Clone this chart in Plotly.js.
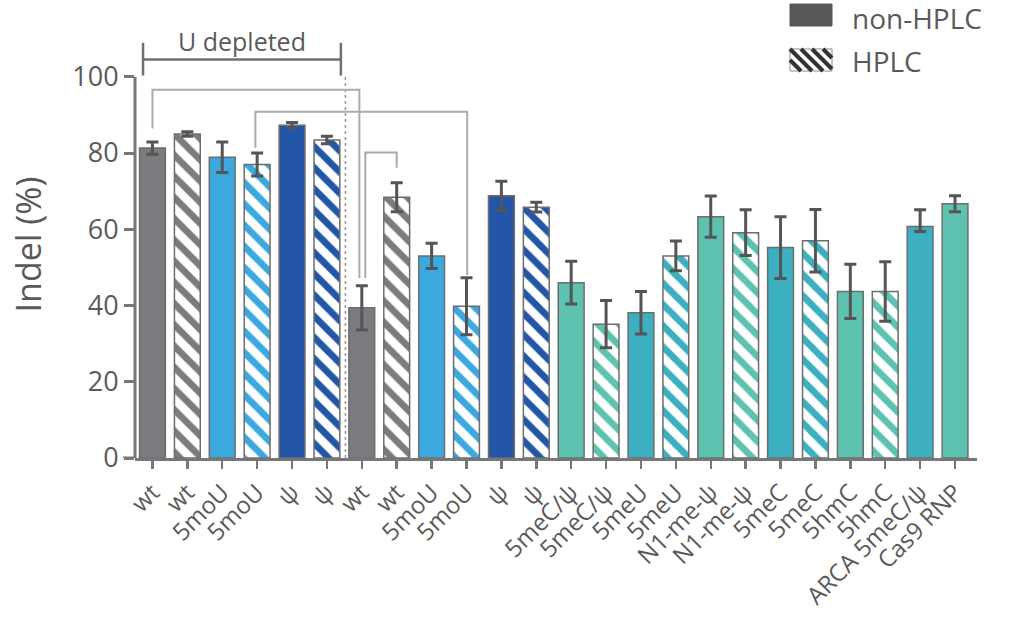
<!DOCTYPE html>
<html>
<head>
<meta charset="utf-8">
<script src="https://cdn.plot.ly/plotly-3.0.1.min.js"></script>
<style>html,body{margin:0;padding:0;background:#fff;}#chart{width:1036px;height:631px;}</style>
</head>
<body>
<div id="chart"></div>
<script>
// ---- data ----
const categories = ['wt','wt','5moU','5moU','ψ','ψ','wt','wt','5moU','5moU','ψ','ψ',
  '5meC/ψ','5meC/ψ','5meU','5meU','N1-me-ψ','N1-me-ψ','5meC','5meC','5hmC','5hmC','ARCA 5meC/ψ','Cas9 RNP'];
const indel = [81.3, 85.0, 78.9, 77.0, 87.3, 83.4, 39.4, 68.4, 53.0, 39.8, 68.8, 65.8,
  46.0, 35.1, 38.1, 53.0, 63.3, 59.1, 55.2, 57.0, 43.7, 43.7, 60.7, 66.7];
const errPlus  = [1.6, 0.6, 4.0, 3.0, 0.7, 1.0, 5.8, 3.8, 3.3, 7.5, 3.8, 1.3,
  5.6, 6.2, 5.6, 3.9, 5.4, 6.0, 8.1, 8.2, 7.1, 7.8, 4.4, 2.1];
const errMinus = [1.6, 0.6, 4.0, 3.0, 0.7, 1.0, 5.8, 3.8, 3.3, 7.5, 3.8, 1.3,
  5.6, 6.2, 5.6, 3.9, 5.4, 6.0, 8.1, 8.2, 7.1, 7.8, 1.3, 2.1];
const hplc = [0,1,0,1,0,1,0,1,0,1,0,1, 0,1,0,1,0,1,0,1,0,1,0,0];
const colorGroup = ['gray','gray','lightblue','lightblue','darkblue','darkblue',
  'gray','gray','lightblue','lightblue','darkblue','darkblue',
  'green','green','teal','teal','green','green','teal','teal','green','green','teal','green'];
const yTicks = [0, 20, 40, 60, 80, 100];
const legendLabels = ['non-HPLC', 'HPLC'];
const bracketLabel = 'U depleted';
// comparison brackets: [x left, y left end, y top, x right, y right end]
const brackets = [
  [0.0, 86.4, 96.6, 5.93, 47.2],
  [2.95, 81.4, 90.8, 9.02, 48.0],
  [6.1, 47.2, 80.1, 7.0, 76.1]
];

// ---- styling ----
const palette = {gray:'#7b7c80', lightblue:'#3ba9e0', darkblue:'#2456a8', green:'#5dc3b0', teal:'#3cb0c0'};
const font = 'Open Sans, Lato, sans-serif';
const txt = '#5a5a5a';
const axisCol = '#777777';

const W = 1036, H = 631;
const M = {l:135, r:59, t:31, b:173};
const pw = W - M.l - M.r, ph = H - M.t - M.b;
const px2x = p => (p - M.l) / pw;
const py2y = p => (H - M.b - p) / ph;

const xs = categories.map((_, i) => i);
const colors = colorGroup.map(g => palette[g]);

const trace = {
  type: 'bar',
  x: xs,
  y: indel,
  width: 0.74,
  showlegend: false,
  hoverinfo: 'y',
  marker: {
    color: colors,
    line: {color: '#6d6d6d', width: 1.5},
    pattern: {
      shape: hplc.map(h => h ? '\\' : ''),
      fgcolor: colors,
      bgcolor: 'white',
      size: 15,
      solidity: 0.45,
      fillmode: 'replace'
    }
  },
  error_y: {type: 'data', symmetric: false, array: errPlus, arrayminus: errMinus,
    color: '#555555', thickness: 3, width: 6}
};

const shapes = [];
// y axis line 0..100
shapes.push({type:'line', xref:'paper', yref:'y', x0:0, x1:0, y0:0, y1:100,
  line:{color:axisCol, width:3}});
// x axis extension to the left
shapes.push({type:'line', xref:'paper', yref:'y', x0:px2x(123), x1:0, y0:0, y1:0,
  line:{color:axisCol, width:3}});
// dotted separator
shapes.push({type:'line', xref:'x', yref:'y', x0:5.53, x1:5.53, y0:0, y1:100.3,
  line:{color:'#9a9a9a', width:1.5, dash:'dot'}});
// U depleted bracket
shapes.push({type:'line', xref:'x', yref:'y', x0:-0.27, x1:5.4, y0:104.5, y1:104.5, line:{color:'#707070', width:2.5}});
shapes.push({type:'line', xref:'x', yref:'y', x0:-0.27, x1:-0.27, y0:100.3, y1:108.9, line:{color:'#707070', width:2.5}});
shapes.push({type:'line', xref:'x', yref:'y', x0:5.4, x1:5.4, y0:100.3, y1:108.9, line:{color:'#707070', width:2.5}});
// comparison brackets
brackets.forEach(b => {
  shapes.push({type:'path', xref:'x', yref:'y',
    path:`M${b[0]},${b[1]} L${b[0]},${b[2]} L${b[3]},${b[2]} L${b[3]},${b[4]}`,
    line:{color:'#ababab', width:2}});
});
// legend swatches (drawn in pixel space)
const sw = {x0:790, x1:832};
const rows = [{y0:4, y1:26}, {y0:49, y1:71}];
shapes.push({type:'rect', xref:'paper', yref:'paper', x0:px2x(sw.x0), x1:px2x(sw.x1),
  y0:py2y(rows[0].y1), y1:py2y(rows[0].y0), fillcolor:'#58585a', line:{color:'#58585a', width:1}});
shapes.push({type:'rect', xref:'paper', yref:'paper', x0:px2x(sw.x0), x1:px2x(sw.x1),
  y0:py2y(rows[1].y1), y1:py2y(rows[1].y0), fillcolor:'white', line:{color:'#8a8a8a', width:1}});
(function(){
  const X0 = sw.x0, X1 = sw.x1, Y0 = rows[1].y0, Y1 = rows[1].y1, h = Y1 - Y0;
  for (let k = -h; k < X1 - X0; k += 11) {
    const t0 = Math.max(0, -k / h), t1 = Math.min(1, (X1 - X0 - k) / h);
    if (t1 <= t0) continue;
    shapes.push({type:'line', xref:'paper', yref:'paper',
      x0:px2x(X0 + k + t0*h), y0:py2y(Y0 + t0*h),
      x1:px2x(X0 + k + t1*h), y1:py2y(Y0 + t1*h),
      line:{color:'#333333', width:4}});
  }
})();

const annotations = [
  {xref:'x', yref:'y', x:2.57, y:109.3, text:bracketLabel, showarrow:false,
   font:{family:font, size:25, color:txt}, xanchor:'center', yanchor:'middle'},
  {xref:'paper', yref:'paper', x:px2x(850), y:py2y(18), text:legendLabels[0], showarrow:false,
   font:{family:font, size:28, color:txt}, xanchor:'left', yanchor:'middle'},
  {xref:'paper', yref:'paper', x:px2x(850), y:py2y(61), text:legendLabels[1], showarrow:false,
   font:{family:font, size:28, color:txt}, xanchor:'left', yanchor:'middle'}
];

const layout = {
  width: W, height: H,
  margin: M,
  paper_bgcolor: 'white', plot_bgcolor: 'white',
  showlegend: false,
  bargap: 0,
  font: {family: font, color: txt},
  xaxis: {
    range: [-0.5, 23.63],
    tickmode: 'array', tickvals: xs, ticktext: categories,
    tickangle: -45, tickfont: {family: font, size: 24, color: txt},
    ticks: 'outside', ticklen: 8, tickwidth: 2.5, tickcolor: axisCol,
    showline: true, linecolor: axisCol, linewidth: 3,
    showgrid: false, zeroline: false, automargin: false
  },
  yaxis: {
    range: [0, 112],
    tickmode: 'array', tickvals: yTicks, ticktext: yTicks.map(String),
    tickfont: {family: font, size: 27, color: txt},
    ticks: 'outside', ticklen: 10, tickwidth: 3, tickcolor: axisCol,
    showline: false, showgrid: false, zeroline: false, automargin: false,
    title: {text: 'Indel (%)', font: {family: font, size: 34, color: txt}, standoff: 20}
  },
  shapes: shapes,
  annotations: annotations
};

Plotly.newPlot('chart', [trace], layout, {displayModeBar: false, staticPlot: true});
</script>
</body>
</html>
